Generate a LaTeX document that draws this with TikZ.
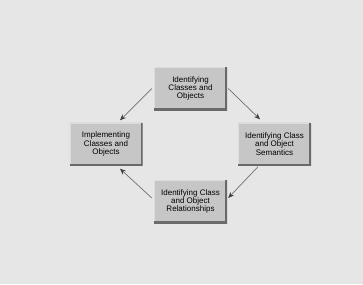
\documentclass[tikz,border=0pt]{standalone}
\usepackage{fontspec}
\setmainfont{Liberation Sans}
\usetikzlibrary{arrows.meta}
\definecolor{bg}{HTML}{E6E6E6}
\definecolor{boxfill}{HTML}{C6C6C6}
\definecolor{boxdark}{HTML}{6A6A6A}
\definecolor{boxlight}{HTML}{DCDCDC}
\definecolor{linecol}{HTML}{707070}
\definecolor{tipcol}{HTML}{404040}
\tikzset{
  stepbox/.style={rectangle, fill=boxfill, minimum width=73pt, minimum height=43pt,
    inner sep=0pt, align=center, font=\fontsize{8}{8.2}\selectfont,
    path picture={
      \draw[line width=2pt, draw=boxlight] (path picture bounding box.south west) -- (path picture bounding box.north west) -- (path picture bounding box.north east);
      \draw[line width=4pt, draw=boxdark] (path picture bounding box.south west) -- (path picture bounding box.south east) -- (path picture bounding box.north east);
    }},
  arr/.style={draw=linecol, line width=0.7pt, -{Stealth[length=6pt,width=5pt,color=tipcol]}}
}
\begin{document}
\begin{tikzpicture}[x=1pt,y=-1pt]
\fill[bg] (0,0) rectangle (363,284);
\useasboundingbox (0,0) rectangle (363,284);
\node[stepbox] (top) at (190.5,88.5) {Identifying\\Classes and\\Objects};
\node[stepbox] (left) at (106,144) {Implementing\\Classes and\\Objects};
\node[stepbox] (right) at (274.5,144) {Identifying Class\\and Object\\Semantics};
\node[stepbox] (bottom) at (190.5,201.5) {Identifying Class\\and Object\\Relationships};
\draw[arr] ([xshift=-2pt]top.west) -- ([xshift=14pt,yshift=2pt]left.north);
\draw[arr] ([xshift=1pt]top.east) -- ([xshift=-14.5pt,yshift=3pt]right.north);
\draw[arr] ([xshift=-16.5pt,yshift=-1pt]right.south) -- ([xshift=1pt,yshift=3.5pt]bottom.east);
\draw[arr] ([xshift=-2pt,yshift=3.5pt]bottom.west) -- ([xshift=14pt,yshift=-3pt]left.south);
\end{tikzpicture}
\end{document}
